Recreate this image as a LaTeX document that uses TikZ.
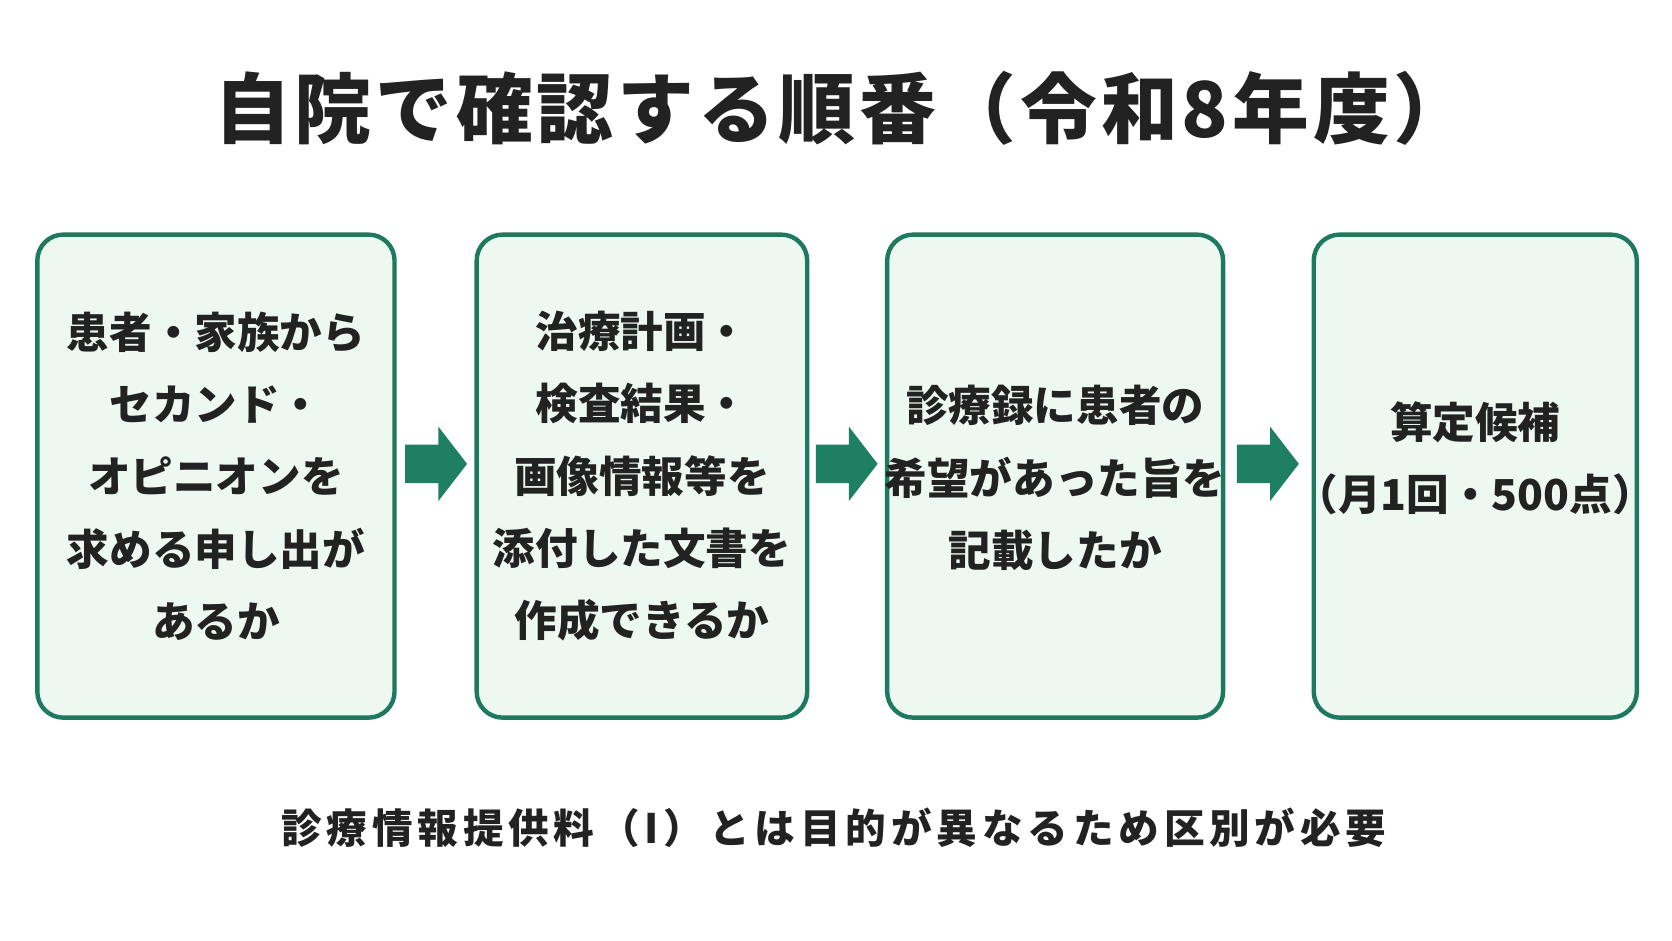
\documentclass[tikz,border=0pt]{standalone}
\usepackage{fontspec}
\setmainfont{Noto Sans CJK JP}
\definecolor{boxg}{HTML}{1E7A5F}
\definecolor{boxf}{HTML}{EDF8F1}
\definecolor{arrg}{HTML}{1E7F62}
\definecolor{ink}{HTML}{222222}
\begin{document}
\begin{tikzpicture}[x=0.5333pt,y=-0.5333pt,
  box/.style={draw=boxg,line width=2.2pt,fill=boxf,rounded corners=13pt},
  txt/.style={font=\bfseries\fontsize{21.3}{36.2}\selectfont,text=ink,align=center},
  barrow/.style={fill=arrg,draw=none}]
\fill[white] (0,0) rectangle (1568,882);
\node[font=\bfseries\fontsize{38.4}{42}\selectfont\addfontfeatures{LetterSpace=5},text=ink] (title) at (790,102) {自院で確認する順番（令和8年度）};
\draw[box] (35,220) rectangle (370,673) node[midway,txt] (b1) {患者・家族から\\セカンド・\\オピニオンを\\求める申し出が\\あるか};
\draw[box] (447,220) rectangle (757,673) node[midway,txt] (b2) {治療計画・\\検査結果・\\画像情報等を\\添付した文書を\\作成できるか};
\draw[box] (832,220) rectangle (1147,673) node[midway,txt,yshift=-1pt] (b3) {診療録に患者の\\希望があった旨を\\記載したか};
\draw[box] (1232,220) rectangle (1535,673) node[midway,txt,yshift=9pt] (b4) {算定候補\\（月1回・500点）};
\foreach \x in {380,765,1160}{
  \fill[barrow] (\x,417) -- (\x+31,417) -- (\x+31,400) -- (\x+58,435) -- (\x+31,470) -- (\x+31,453) -- (\x,453) -- cycle;
}
\node[font=\bfseries\fontsize{20.3}{23}\selectfont\addfontfeatures{LetterSpace=12},text=ink] (note) at (782,776) {診療情報提供料（I）とは目的が異なるため区別が必要};
\pgfresetboundingbox
\path[use as bounding box] (0,0) rectangle (1568,882);
\end{tikzpicture}
\end{document}
